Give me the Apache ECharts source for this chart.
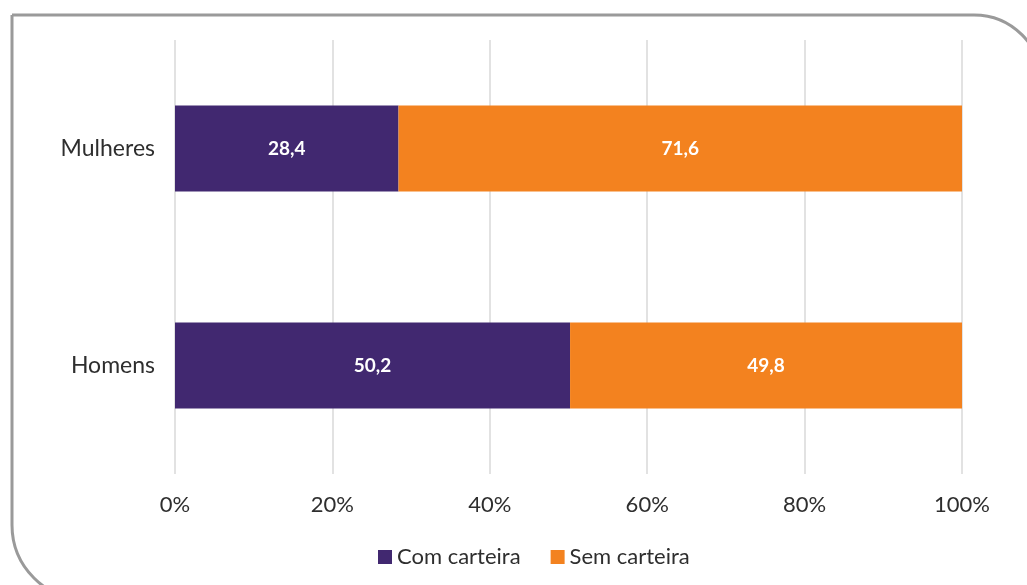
<!DOCTYPE html>
<html><head><meta charset="utf-8">
<script src="https://cdn.jsdelivr.net/npm/echarts@6/dist/echarts.min.js"></script>
<style>html,body{margin:0;padding:0;background:#fff}#c{width:1027px;height:585px}</style>
</head><body><div id="c"></div>
<script>
const categories = ['Homens', 'Mulheres'];
const comCarteira = [50.2, 28.4];
const semCarteira = [49.8, 71.6];
const seriesNames = ['Com carteira', 'Sem carteira'];
const xTicks = [0, 20, 40, 60, 80, 100];

const chart = echarts.init(document.getElementById('c'));
const font = 'Lato';
const fmt = v => String(v).replace('.', ',');
chart.setOption({
  animation: false,
  graphic: [{
    type: 'rect', silent: true, z: -1,
    shape: { x: 12, y: 15, width: 1030, height: 585, r: [0, 68, 0, 75] },
    style: { fill: 'none', stroke: '#9a9a9a', lineWidth: 3 }
  }],
  grid: { left: 175, right: 65, top: 40, bottom: 111, containLabel: false },
  legend: {
    bottom: 12, left: 373, itemWidth: 14, itemHeight: 14, itemGap: 30,
    icon: 'rect',
    textStyle: { fontFamily: font, fontSize: 22, color: '#2e2e2e' },
    data: seriesNames
  },
  xAxis: {
    type: 'value', min: 0, max: 100, interval: 20,
    axisLine: { show: false }, axisTick: { show: false },
    axisLabel: { formatter: v => xTicks.includes(v) ? v + '%' : '', margin: 20, fontFamily: font, fontSize: 22, color: '#2e2e2e' },
    splitLine: { show: true, lineStyle: { color: '#e2e2e2', width: 2 } }
  },
  yAxis: {
    type: 'category', data: categories,
    axisLine: { show: false }, axisTick: { show: false },
    axisLabel: { margin: 20, fontFamily: font, fontSize: 23, color: '#2e2e2e' }
  },
  series: [
    { name: seriesNames[0], type: 'bar', stack: 'a', data: comCarteira, barWidth: 86,
      itemStyle: { color: '#412870' },
      label: { show: true, position: 'inside', color: '#fff', fontFamily: font, fontWeight: 'bold', fontSize: 19, formatter: p => fmt(p.value) } },
    { name: seriesNames[1], type: 'bar', stack: 'a', data: semCarteira, barWidth: 86,
      itemStyle: { color: '#f3821f' },
      label: { show: true, position: 'inside', color: '#fff', fontFamily: font, fontWeight: 'bold', fontSize: 19, formatter: p => fmt(p.value) } }
  ]
});
</script></body></html>
